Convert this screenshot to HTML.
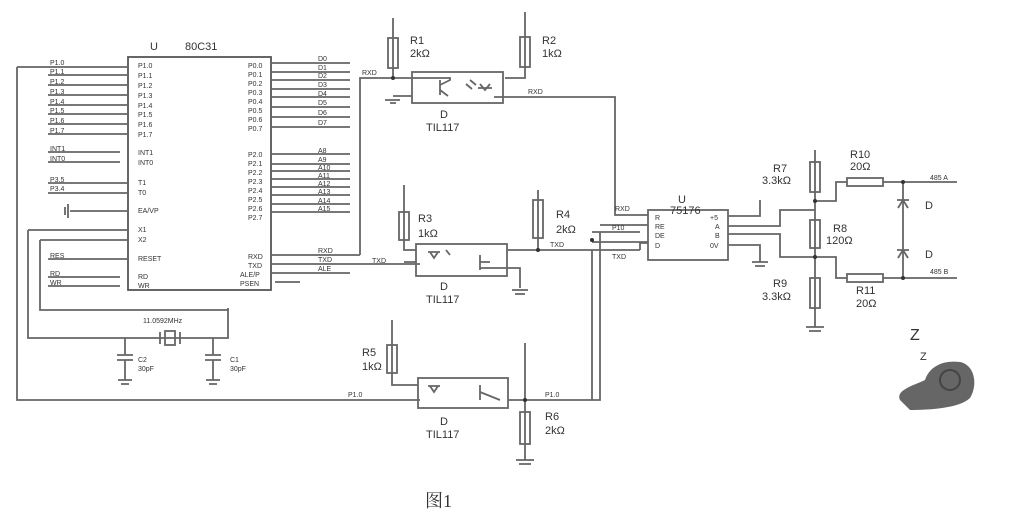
<!DOCTYPE html>
<html><head><meta charset="utf-8"><style>
body{margin:0;background:#fff;}
svg{display:block;}
text{font-family:"Liberation Sans",sans-serif;fill:#333;}
</style></head><body>
<svg width="1012" height="527" viewBox="0 0 1012 527" xmlns="http://www.w3.org/2000/svg">
<g stroke="#666" stroke-width="1.8" fill="none">
<rect x="128" y="57" width="143" height="233" stroke="#555"/>
<path d="M17 67H128 M48 75H128 M48 85H128 M48 95H128 M48 105H128 M48 114H128 M48 124H128 M48 134H128"/>
<path d="M48 152H120 M48 162H120 M48 183H128 M48 193H128 M70 211H128 M28 230H128 M40 240H128 M48 259H128 M48 277H120 M48 286H120"/>
<path d="M271 63H350 M271 72H350 M271 80H350 M271 89H350 M271 97H350 M271 107H350 M271 117H350 M271 127H350"/>
<path d="M271 154H350 M271 164H350 M271 171H350 M271 179H350 M271 187H350 M271 195H350 M271 204H350 M271 212H350"/>
<path d="M271 255H360 M271 264H420 M271 273H350 M275 282H300"/>
<path d="M68 204V218 M65 207V215"/>
<path d="M17 67V400H420"/>
<path d="M28 230V338H228V308"/>
<path d="M40 240V310H228"/>
<path d="M125 338V355 M213 338V355 M117 355H133 M117 360H133 M205 355H221 M205 360H221 M125 360V380 M213 360V380 M118 380H132 M121 384H129 M206 380H220 M209 384H217"/>
<rect x="165" y="331" width="10" height="14"/>
<path d="M160 332V344 M180 332V344"/>
<path d="M360 255V78H412"/>
<rect x="412" y="72" width="91" height="31"/>
<path d="M393 18V78 M525 12V78H505"/>
<rect x="388" y="38" width="10" height="30"/><rect x="520" y="37" width="10" height="30"/>
<path d="M393 96H412 M385 100H400 M390 103H396"/>
<path d="M440 80V95 M440 85L450 80V78H412 M440 90L448 96"/>
<path d="M478 88H492 M480 84L485 90L490 84 M470 80L476 85 M466 84L472 89"/>
<path d="M494 97H615V215H648"/>
<rect x="416" y="244" width="91" height="32"/>
<path d="M404 185V250H416 M404 262H416"/>
<path d="M428 252H440 M430 252L434 258L438 252 M446 250L450 255"/>
<rect x="399" y="212" width="10" height="28"/>
<rect x="533" y="200" width="10" height="38"/>
<path d="M538 190V250 M507 250H640 M480 255V270 M480 262L490 262 M480 268L520 268V288 M512 290H528 M515 294H525"/>
<path d="M592 250V400 M592 232H640 M592 242H648 M640 250V243H648 M600 225H648"/>
<rect x="418" y="378" width="90" height="30"/>
<path d="M392 320V385H418"/>
<path d="M428 386H440 M430 386L434 392L438 386 M480 385V400 M480 392L500 400"/>
<rect x="387" y="345" width="10" height="28"/>
<path d="M525 343V400 M508 400H600V232 M525 400V460 M516 460H534 M519 464H531"/>
<rect x="520" y="412" width="10" height="32"/>
<rect x="648" y="210" width="80" height="50"/>
<path d="M728 216H760V200 M728 226H780V210H815 M728 234H780V257H815 M728 245H760V262 M752 262H768 M755 266H765"/>
<path d="M815 150V327 M806 327H824 M809 331H821"/>
<rect x="810" y="162" width="10" height="30"/><rect x="810" y="220" width="10" height="28"/><rect x="810" y="278" width="10" height="30"/>
<path d="M815 201H836V182H847 M883 182H957 M815 257H836V278H847 M883 278H957 M903 182V278"/>
<rect x="847" y="178" width="36" height="8"/><rect x="847" y="274" width="36" height="8"/>
<path d="M897 200H909 M898 208L903 200L908 208 M897 250H909 M898 258L903 250L908 258"/>
</g>
<g fill="#333"><circle cx="393" cy="78" r="2"/><circle cx="538" cy="250" r="2"/><circle cx="592" cy="240" r="2"/><circle cx="525" cy="400" r="2"/><circle cx="815" cy="201" r="2"/><circle cx="815" cy="257" r="2"/><circle cx="903" cy="182" r="2"/><circle cx="903" cy="278" r="2"/></g>
<g font-size="7">
<text x="50" y="65">P1.0</text><text x="50" y="74">P1.1</text><text x="50" y="84">P1.2</text><text x="50" y="94">P1.3</text><text x="50" y="104">P1.4</text><text x="50" y="113">P1.5</text><text x="50" y="123">P1.6</text><text x="50" y="133">P1.7</text>
<text x="50" y="151">INT1</text><text x="50" y="161">INT0</text><text x="50" y="182">P3.5</text><text x="50" y="191">P3.4</text><text x="50" y="258">RES</text><text x="50" y="276">RD</text><text x="50" y="285">WR</text>
<text x="138" y="68">P1.0</text><text x="138" y="78">P1.1</text><text x="138" y="88">P1.2</text><text x="138" y="98">P1.3</text><text x="138" y="108">P1.4</text><text x="138" y="117">P1.5</text><text x="138" y="127">P1.6</text><text x="138" y="137">P1.7</text>
<text x="138" y="155">INT1</text><text x="138" y="165">INT0</text><text x="138" y="185">T1</text><text x="138" y="195">T0</text><text x="138" y="213">EA/VP</text><text x="138" y="232">X1</text><text x="138" y="242">X2</text><text x="138" y="261">RESET</text><text x="138" y="279">RD</text><text x="138" y="288">WR</text>
<text x="248" y="68">P0.0</text><text x="248" y="77">P0.1</text><text x="248" y="86">P0.2</text><text x="248" y="95">P0.3</text><text x="248" y="104">P0.4</text><text x="248" y="113">P0.5</text><text x="248" y="122">P0.6</text><text x="248" y="131">P0.7</text>
<text x="248" y="157">P2.0</text><text x="248" y="166">P2.1</text><text x="248" y="175">P2.2</text><text x="248" y="184">P2.3</text><text x="248" y="193">P2.4</text><text x="248" y="202">P2.5</text><text x="248" y="211">P2.6</text><text x="248" y="220">P2.7</text>
<text x="248" y="259">RXD</text><text x="248" y="268">TXD</text><text x="240" y="277">ALE/P</text><text x="240" y="286">PSEN</text>
<text x="318" y="61">D0</text><text x="318" y="70">D1</text><text x="318" y="78">D2</text><text x="318" y="87">D3</text><text x="318" y="96">D4</text><text x="318" y="105">D5</text><text x="318" y="115">D6</text><text x="318" y="125">D7</text>
<text x="318" y="153">A8</text><text x="318" y="162">A9</text><text x="318" y="170">A10</text><text x="318" y="178">A11</text><text x="318" y="186">A12</text><text x="318" y="194">A13</text><text x="318" y="203">A14</text><text x="318" y="211">A15</text>
<text x="318" y="253">RXD</text><text x="318" y="262">TXD</text><text x="318" y="271">ALE</text>
<text x="362" y="75">RXD</text><text x="528" y="94">RXD</text><text x="372" y="263">TXD</text><text x="550" y="247">TXD</text><text x="615" y="211">RXD</text><text x="612" y="230">P10</text><text x="612" y="259">TXD</text><text x="545" y="397">P1.0</text><text x="348" y="397">P1.0</text>
<text x="655" y="220">R</text><text x="655" y="229">RE</text><text x="655" y="238">DE</text><text x="655" y="248">D</text><text x="710" y="220">+5</text><text x="715" y="229">A</text><text x="715" y="238">B</text><text x="710" y="248">0V</text>
<text x="930" y="180">485 A</text><text x="930" y="274">485 B</text>
<text x="143" y="323">11.0592MHz</text><text x="138" y="362">C2</text><text x="138" y="371">30pF</text><text x="230" y="362">C1</text><text x="230" y="371">30pF</text>
</g>
<g font-size="11">
<text x="150" y="50">U</text><text x="185" y="50">80C31</text>
<text x="410" y="44">R1</text><text x="410" y="57">2kΩ</text><text x="542" y="44">R2</text><text x="542" y="57">1kΩ</text>
<text x="440" y="118">D</text><text x="426" y="131">TIL117</text>
<text x="418" y="222">R3</text><text x="418" y="237">1kΩ</text><text x="556" y="218">R4</text><text x="556" y="233">2kΩ</text>
<text x="440" y="290">D</text><text x="426" y="303">TIL117</text>
<text x="362" y="356">R5</text><text x="362" y="370">1kΩ</text><text x="545" y="420">R6</text><text x="545" y="434">2kΩ</text>
<text x="440" y="425">D</text><text x="426" y="438">TIL117</text>
<text x="678" y="203">U</text><text x="670" y="214">75176</text>
<text x="773" y="172">R7</text><text x="762" y="184">3.3kΩ</text><text x="833" y="232">R8</text><text x="826" y="244">120Ω</text><text x="773" y="287">R9</text><text x="762" y="300">3.3kΩ</text>
<text x="850" y="158">R10</text><text x="850" y="170">20Ω</text><text x="856" y="294">R11</text><text x="856" y="307">20Ω</text>
<text x="925" y="209">D</text><text x="925" y="258">D</text>
<text x="910" y="340" font-size="16">Z</text><text x="920" y="360">Z</text>
</g>
<path d="M900 400 C895 390 915 385 925 380 C930 365 945 360 960 362 C975 365 978 385 970 398 C960 408 930 410 910 410 Z" fill="#666"/>
<circle cx="950" cy="380" r="10" fill="none" stroke="#444" stroke-width="2"/>
<text x="425" y="507" font-size="18" style="font-family:'Liberation Serif','Noto Serif CJK SC',serif">图1</text>
</svg>
</body></html>
